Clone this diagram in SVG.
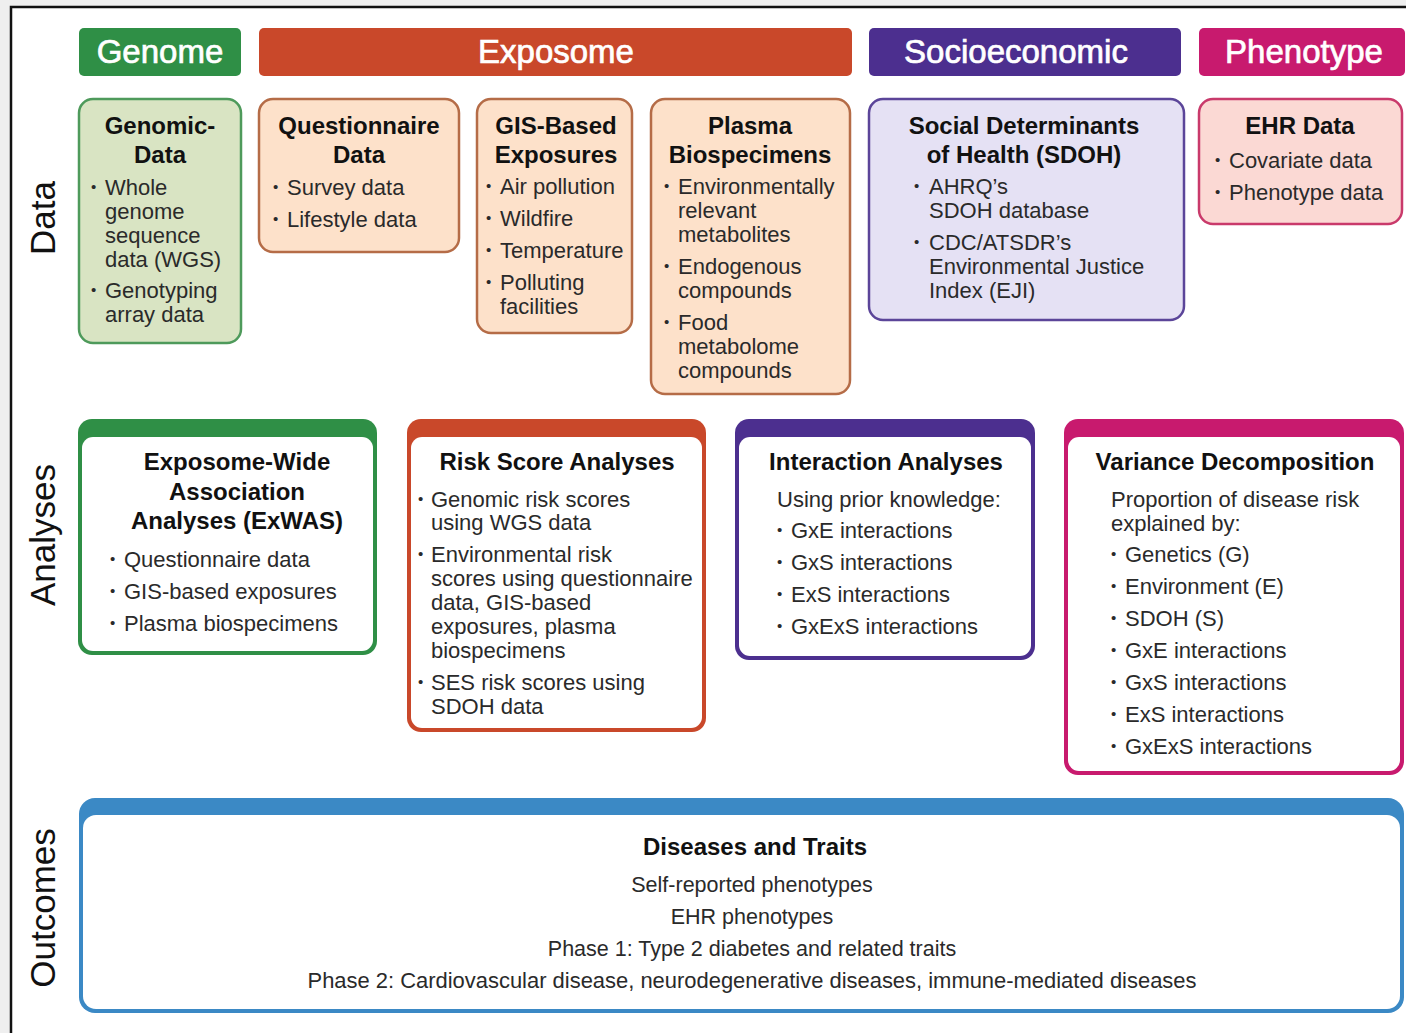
<svg xmlns="http://www.w3.org/2000/svg" width="1406" height="1033" viewBox="0 0 1406 1033">
<style>
text{font-family:"Liberation Sans",Arial,sans-serif;fill:#1e1e1e}
.hdr{font-size:33px;fill:#fff;stroke:#fff;stroke-width:0.7;text-anchor:middle}
.side{font-size:35px;fill:#111;text-anchor:middle}
.ttl{font-size:24px;font-weight:bold;text-anchor:middle;fill:#111}
.b{font-size:22px;fill:#2a2a2a}
.dot{font-size:15px;fill:#2a2a2a}
.ctr{font-size:21.5px;fill:#2a2a2a;text-anchor:middle}
.green{fill:#d9e4c3;stroke:#4e9a5b;stroke-width:2.5}
.peach{fill:#fde1ca;stroke:#b56c47;stroke-width:2.5}
.lav{fill:#e5e1f4;stroke:#5b4599;stroke-width:2.5}
.pink{fill:#fbd9d4;stroke:#c93a6b;stroke-width:2.5}
</style>
<rect x="0" y="0" width="1406" height="1033" fill="#efefef"/>
<rect x="11" y="7" width="1395" height="1026" fill="#fff"/>
<path d="M11 1033 V7 H1406" fill="none" stroke="#111" stroke-width="2.5"/>

<g id="side-labels">
<text class="side" transform="translate(55,218) rotate(-90)">Data</text>
<text class="side" transform="translate(55,535) rotate(-90)">Analyses</text>
<text class="side" transform="translate(55,908) rotate(-90)">Outcomes</text>
</g>

<g id="hdr-genome"><rect x="79" y="28" width="162" height="48" rx="5" fill="#2f8f46"/><text class="hdr" x="160" y="63">Genome</text></g>
<g id="hdr-exposome"><rect x="259" y="28" width="593" height="48" rx="5" fill="#c9482a"/><text class="hdr" x="556" y="63">Exposome</text></g>
<g id="hdr-socio"><rect x="869" y="28" width="312" height="48" rx="5" fill="#4c2f8f"/><text class="hdr" x="1016" y="63">Socioeconomic</text></g>
<g id="hdr-phenotype"><rect x="1199" y="28" width="206" height="48" rx="5" fill="#c81a6e"/><text class="hdr" x="1304" y="63">Phenotype</text></g>

<g id="genomic-data">
<rect class="green" x="79" y="99" width="162" height="244" rx="14"/>
<text class="ttl" x="160" y="134">Genomic-</text>
<text class="ttl" x="160" y="163">Data</text>
<text class="dot" x="91" y="192">•</text>
<text class="b" x="105" y="195">Whole</text>
<text class="b" x="105" y="219">genome</text>
<text class="b" x="105" y="243">sequence</text>
<text class="b" x="105" y="267">data (WGS)</text>
<text class="dot" x="91" y="295">•</text>
<text class="b" x="105" y="298">Genotyping</text>
<text class="b" x="105" y="322">array data</text>
</g>

<g id="questionnaire-data">
<rect class="peach" x="259" y="99" width="200" height="153" rx="14"/>
<text class="ttl" x="359" y="134">Questionnaire</text>
<text class="ttl" x="359" y="163">Data</text>
<text class="dot" x="273" y="192">•</text>
<text class="b" x="287" y="195">Survey data</text>
<text class="dot" x="273" y="224">•</text>
<text class="b" x="287" y="227">Lifestyle data</text>
</g>

<g id="gis-exposures">
<rect class="peach" x="477" y="99" width="155" height="234" rx="14"/>
<text class="ttl" x="556" y="134">GIS-Based</text>
<text class="ttl" x="556" y="163">Exposures</text>
<text class="dot" x="486" y="191">•</text>
<text class="b" x="500" y="194">Air pollution</text>
<text class="dot" x="486" y="223">•</text>
<text class="b" x="500" y="226">Wildfire</text>
<text class="dot" x="486" y="255">•</text>
<text class="b" x="500" y="258">Temperature</text>
<text class="dot" x="486" y="287">•</text>
<text class="b" x="500" y="290">Polluting</text>
<text class="b" x="500" y="314">facilities</text>
</g>

<g id="plasma-biospecimens">
<rect class="peach" x="651" y="99" width="199" height="295" rx="14"/>
<text class="ttl" x="750" y="134">Plasma</text>
<text class="ttl" x="750" y="163">Biospecimens</text>
<text class="dot" x="664" y="191">•</text>
<text class="b" x="678" y="194">Environmentally</text>
<text class="b" x="678" y="218">relevant</text>
<text class="b" x="678" y="242">metabolites</text>
<text class="dot" x="664" y="271">•</text>
<text class="b" x="678" y="274">Endogenous</text>
<text class="b" x="678" y="298">compounds</text>
<text class="dot" x="664" y="327">•</text>
<text class="b" x="678" y="330">Food</text>
<text class="b" x="678" y="354">metabolome</text>
<text class="b" x="678" y="378">compounds</text>
</g>

<g id="sdoh">
<rect class="lav" x="869" y="99" width="315" height="221" rx="14"/>
<text class="ttl" x="1024" y="134">Social Determinants</text>
<text class="ttl" x="1024" y="163">of Health (SDOH)</text>
<text class="dot" x="914" y="191">•</text>
<text class="b" x="929" y="194">AHRQ’s</text>
<text class="b" x="929" y="218">SDOH database</text>
<text class="dot" x="914" y="247">•</text>
<text class="b" x="929" y="250">CDC/ATSDR’s</text>
<text class="b" x="929" y="274">Environmental Justice</text>
<text class="b" x="929" y="298">Index (EJI)</text>
</g>

<g id="ehr-data">
<rect class="pink" x="1199" y="99" width="203" height="125" rx="14"/>
<text class="ttl" x="1300" y="134">EHR Data</text>
<text class="dot" x="1215" y="165">•</text>
<text class="b" x="1229" y="168">Covariate data</text>
<text class="dot" x="1215" y="197">•</text>
<text class="b" x="1229" y="200">Phenotype data</text>
</g>

<g id="exwas">
<rect x="78" y="419" width="299" height="236" rx="14" fill="#2f8f46"/>
<rect x="82" y="437" width="291" height="214" rx="11" fill="#fff"/>
<text class="ttl" x="237" y="470">Exposome-Wide</text>
<text class="ttl" x="237" y="500">Association</text>
<text class="ttl" x="237" y="529">Analyses (ExWAS)</text>
<text class="dot" x="110" y="564">•</text>
<text class="b" x="124" y="567">Questionnaire data</text>
<text class="dot" x="110" y="596">•</text>
<text class="b" x="124" y="599">GIS-based exposures</text>
<text class="dot" x="110" y="628">•</text>
<text class="b" x="124" y="631">Plasma biospecimens</text>
</g>

<g id="risk-score">
<rect x="407" y="419" width="299" height="313" rx="14" fill="#c9482a"/>
<rect x="411" y="437" width="291" height="291" rx="11" fill="#fff"/>
<text class="ttl" x="557" y="470">Risk Score Analyses</text>
<text class="dot" x="418" y="504">•</text>
<text class="b" x="431" y="507">Genomic risk scores</text>
<text class="b" x="431" y="530">using WGS data</text>
<text class="dot" x="418" y="559">•</text>
<text class="b" x="431" y="562">Environmental risk</text>
<text class="b" x="431" y="586">scores using questionnaire</text>
<text class="b" x="431" y="610">data, GIS-based</text>
<text class="b" x="431" y="634">exposures, plasma</text>
<text class="b" x="431" y="658">biospecimens</text>
<text class="dot" x="418" y="687">•</text>
<text class="b" x="431" y="690">SES risk scores using</text>
<text class="b" x="431" y="714">SDOH data</text>
</g>

<g id="interaction">
<rect x="735" y="419" width="300" height="241" rx="14" fill="#4c2f8f"/>
<rect x="739" y="437" width="292" height="219" rx="11" fill="#fff"/>
<text class="ttl" x="886" y="470">Interaction Analyses</text>
<text class="b" x="777" y="507">Using prior knowledge:</text>
<text class="dot" x="777" y="535">•</text>
<text class="b" x="791" y="538">GxE interactions</text>
<text class="dot" x="777" y="567">•</text>
<text class="b" x="791" y="570">GxS interactions</text>
<text class="dot" x="777" y="599">•</text>
<text class="b" x="791" y="602">ExS interactions</text>
<text class="dot" x="777" y="631">•</text>
<text class="b" x="791" y="634">GxExS interactions</text>
</g>

<g id="variance">
<rect x="1064" y="419" width="340" height="356" rx="14" fill="#c81a6e"/>
<rect x="1068" y="437" width="332" height="334" rx="11" fill="#fff"/>
<text class="ttl" x="1235" y="470">Variance Decomposition</text>
<text class="b" x="1111" y="507">Proportion of disease risk</text>
<text class="b" x="1111" y="531">explained by:</text>
<text class="dot" x="1111" y="559">•</text>
<text class="b" x="1125" y="562">Genetics (G)</text>
<text class="dot" x="1111" y="591">•</text>
<text class="b" x="1125" y="594">Environment (E)</text>
<text class="dot" x="1111" y="623">•</text>
<text class="b" x="1125" y="626">SDOH (S)</text>
<text class="dot" x="1111" y="655">•</text>
<text class="b" x="1125" y="658">GxE interactions</text>
<text class="dot" x="1111" y="687">•</text>
<text class="b" x="1125" y="690">GxS interactions</text>
<text class="dot" x="1111" y="719">•</text>
<text class="b" x="1125" y="722">ExS interactions</text>
<text class="dot" x="1111" y="751">•</text>
<text class="b" x="1125" y="754">GxExS interactions</text>
</g>

<g id="outcomes">
<rect x="79" y="798" width="1325" height="215" rx="16" fill="#3b89c5"/>
<rect x="83" y="815" width="1317" height="194" rx="13" fill="#fff"/>
<text class="ttl" x="755" y="855">Diseases and Traits</text>
<text class="ctr" x="752" y="892">Self-reported phenotypes</text>
<text class="ctr" x="752" y="924">EHR phenotypes</text>
<text class="ctr" x="752" y="956">Phase 1: Type 2 diabetes and related traits</text>
<text class="ctr" x="752" y="988" textLength="889" lengthAdjust="spacingAndGlyphs">Phase 2: Cardiovascular disease, neurodegenerative diseases, immune-mediated diseases</text>
</g>
</svg>
